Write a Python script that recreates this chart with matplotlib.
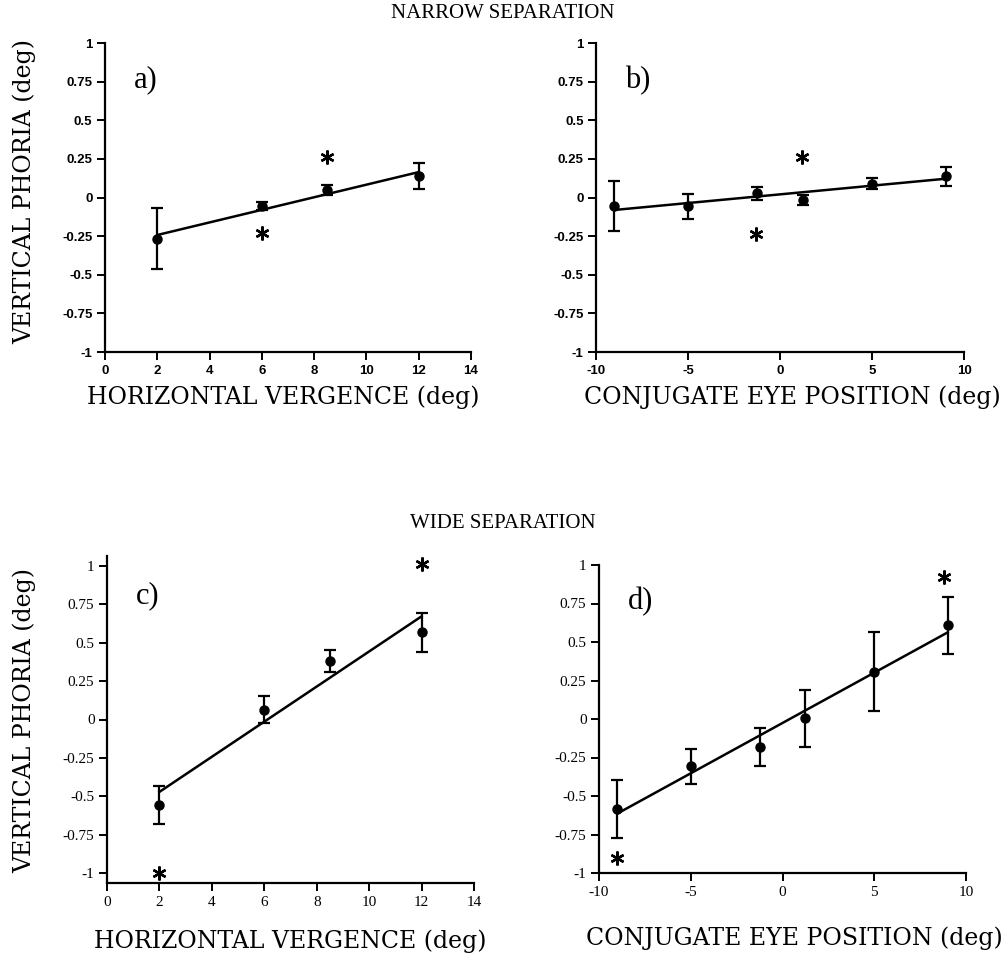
import numpy as np
import matplotlib
matplotlib.use("Agg")
import matplotlib.pyplot as plt

plt.rcParams['axes.unicode_minus'] = False

# ---------------- data ----------------
# Panel a: narrow separation, vertical phoria vs horizontal vergence
a_x = [2, 6, 8.5, 12]
a_y = [-0.266, -0.055, 0.046, 0.139]
a_err = [0.20, 0.028, 0.032, 0.085]
a_star_x = [6, 8.5]
a_star_y = [-0.23, 0.265]

# Panel b: narrow separation, vertical phoria vs conjugate eye position
b_x = [-9, -5, -1.25, 1.25, 5, 9]
b_y = [-0.057, -0.058, 0.027, -0.014, 0.088, 0.136]
b_err = [0.163, 0.083, 0.04, 0.032, 0.036, 0.064]
b_star_x = [-1.3, 1.2]
b_star_y = [-0.237, 0.26]

# Panel c: wide separation, vertical phoria vs horizontal vergence
c_x = [2, 6, 8.5, 12]
c_y = [-0.558, 0.065, 0.383, 0.568]
c_err = [0.125, 0.087, 0.072, 0.128]
c_star_x = [2, 12]
c_star_y = [-1.0, 1.013]

# Panel d: wide separation, vertical phoria vs conjugate eye position
d_x = [-9, -5, -1.25, 1.25, 5, 9]
d_y = [-0.586, -0.308, -0.181, 0.005, 0.306, 0.609]
d_err = [0.187, 0.111, 0.125, 0.186, 0.257, 0.186]
d_star_x = [-9, 8.8]
d_star_y = [-0.903, 0.924]

y_ticks = [1, 0.75, 0.5, 0.25, 0, -0.25, -0.5, -0.75, -1]
y_ticklabels = ['1', '0.75', '0.5', '0.25', '0', '-0.25', '-0.5', '-0.75', '-1']
verg_ticks = [0, 2, 4, 6, 8, 10, 12, 14]
conj_ticks = [-10, -5, 0, 5, 10]

xlabel_verg = 'HORIZONTAL VERGENCE (deg)'
xlabel_conj = 'CONJUGATE EYE POSITION (deg)'
ylabel = 'VERTICAL PHORIA (deg)'
title_top = 'NARROW SEPARATION'
title_bottom = 'WIDE SEPARATION'

# ---------------- figure ----------------
W, H = 1007, 956
fig = plt.figure(figsize=(W / 100, H / 100), dpi=100)
fig.patch.set_facecolor('white')

SERIF = ['Liberation Serif', 'DejaVu Serif']
LABEL_SERIF = ['DejaVu Serif']
SANS = ['Liberation Sans', 'DejaVu Sans']


def px_axes(l, r, t, b):
    return fig.add_axes([l / W, 1 - b / H, (r - l) / W, (b - t) / H])


def panel(ax, x, y, err, sx, sy, xlim, ylim, xticks, label, xlabel, xlab_pos,
          ylab_pos, tickfont, tickweight, ticksize):
    ax.set_xlim(*xlim)
    ax.set_ylim(*ylim)
    for s in ['top', 'right']:
        ax.spines[s].set_visible(False)
    for s in ['left', 'bottom']:
        ax.spines[s].set_linewidth(1.6)
    ax.set_yticks(y_ticks)
    ax.set_yticklabels(y_ticklabels)
    ax.set_xticks(xticks)
    ax.set_xticklabels([str(t) for t in xticks])
    ax.tick_params(direction='out', length=6, width=1.4, pad=3)
    for lab in ax.get_xticklabels() + ax.get_yticklabels():
        lab.set_family(tickfont)
        lab.set_fontweight(tickweight)
        lab.set_fontsize(ticksize)
    # regression line fitted to the means
    k, c0 = np.polyfit(x, y, 1)
    xl = np.array([min(x), max(x)])
    ax.plot(xl, k * xl + c0, color='black', lw=1.8, clip_on=False)
    ax.errorbar(x, y, yerr=err, fmt='o', color='black', ms=6.5, elinewidth=1.6,
                capsize=4, capthick=1.6, clip_on=False)
    ax.plot(sx, sy, linestyle='none', marker=(6, 2, 0), ms=10, mew=1.7,
            color='black', clip_on=False)
    ax.text(0.08, 0.88, label, transform=ax.transAxes, family=SERIF,
            fontsize=22, ha='left', va='center')
    ax.set_xlabel(xlabel, family=LABEL_SERIF, fontsize=17)
    ax.xaxis.set_label_coords(*xlab_pos)
    if ylab_pos is not None:
        ax.set_ylabel(ylabel, family=LABEL_SERIF, fontsize=17)
        ax.yaxis.set_label_coords(*ylab_pos)


ax_a = px_axes(105, 471, 43, 352)
panel(ax_a, a_x, a_y, a_err, a_star_x, a_star_y, (0, 14), (-1, 1), verg_ticks,
      'a)', xlabel_verg, (0.486, -0.107), (-0.188, 0.519), SANS, 'bold', 9.5)

ax_b = px_axes(596, 964, 43, 352)
panel(ax_b, b_x, b_y, b_err, b_star_x, b_star_y, (-10, 10), (-1, 1), conj_ticks,
      'b)', xlabel_conj, (0.533, -0.107), None, SANS, 'bold', 9.5)

ax_c = px_axes(107, 474, 556, 883)
panel(ax_c, c_x, c_y, c_err, c_star_x, c_star_y, (0, 14), (-1.065, 1.065), verg_ticks,
      'c)', xlabel_verg, (0.50, -0.141), (-0.193, 0.498), SERIF, 'normal', 11)

ax_d = px_axes(599, 966, 565, 873)
panel(ax_d, d_x, d_y, d_err, d_star_x, d_star_y, (-10, 10), (-1, 1), conj_ticks,
      'd)', xlabel_conj, (0.531, -0.175), None, SERIF, 'normal', 11)

fig.text(503 / W, 1 - 13 / H, title_top, family=SERIF, fontsize=15,
         ha='center', va='center')
fig.text(503 / W, 1 - 523 / H, title_bottom, family=SERIF, fontsize=15,
         ha='center', va='center')

fig.savefig('out.png', dpi=100, facecolor='white')
